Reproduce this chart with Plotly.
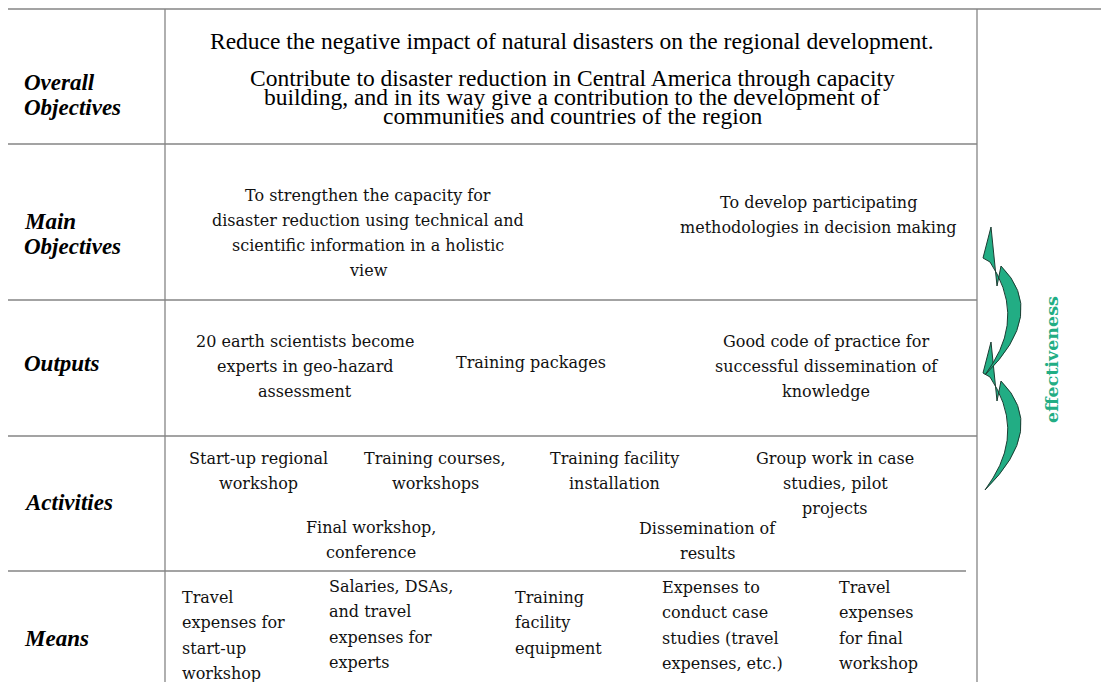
import plotly.graph_objects as go

W, H = 1101, 682

# ---------------- text content ----------------
row_labels = [["Overall", "Objectives"], ["Main", "Objectives"], ["Outputs"], ["Activities"], ["Means"]]
overall_goal = ["Reduce the negative impact of natural disasters on the regional development."]
overall_purpose = [
    "Contribute to disaster reduction in Central America through capacity",
    "building, and in its way give a contribution to the development of",
    "communities and countries of the region",
]
main_objectives = [
    ["To strengthen the capacity for", "disaster reduction using technical and",
     "scientific information in a holistic", "view"],
    ["To develop participating", "methodologies in decision making"],
]
outputs = [
    ["20 earth scientists become", "experts in geo-hazard", "assessment"],
    ["Training packages"],
    ["Good code of practice for", "successful dissemination of", "knowledge"],
]
activities = [
    ["Start-up regional", "workshop"],
    ["Training courses,", "workshops"],
    ["Training facility", "installation"],
    ["Group work in case", "studies, pilot", "projects"],
    ["Final workshop,", "conference"],
    ["Dissemination of", "results"],
]
means = [
    ["Travel", "expenses for", "start-up", "workshop"],
    ["Salaries, DSAs,", "and travel", "expenses for", "experts"],
    ["Training", "facility", "equipment"],
    ["Expenses to", "conduct case", "studies (travel", "expenses, etc.)"],
    ["Travel", "expenses", "for final", "workshop"],
]
side_label = "effectiveness"

# ---------------- layout (pixel positions) ----------------
grid_left, label_col, table_right, page_right = 8, 165, 977, W
row_edges = [9, 144, 300, 436, 571]
means_line_right = 966

label_first_y = [82, 221, 363, 502, 638]
label_x = 22
label_gap = 25

overall_goal_pos = (572, 41)
overall_purpose_pos = (572, 78)
overall_purpose_gap = 19

main_pos = [(368, 195), (818, 202)]
outputs_pos = [(305, 341), (531, 362), (826, 341)]
activities_pos = [(258, 458), (435, 458), (614, 458), (835, 458), (371, 527), (707, 528)]
means_pos = [(180, 597), (327, 586), (513, 597), (660, 587), (837, 587)]
body_gap = 25

GRID = "#858585"
TEXT = "#111111"
GREEN = "#22ad84"
BODY_FONT = dict(family="DejaVu Serif", size=16, color=TEXT)
HEAD_FONT = dict(family="Liberation Serif", size=23.5, color="#000000")
LABEL_FONT = dict(family="Liberation Serif", size=23, color="#000000")

fig = go.Figure()
fig.add_trace(go.Scatter(x=[0, W], y=[0, H], mode="markers", marker=dict(opacity=0),
                         hoverinfo="skip", showlegend=False))

shapes = []
# horizontal grid lines
shapes.append(dict(type="line", x0=grid_left, x1=page_right, y0=row_edges[0], y1=row_edges[0]))
for y in row_edges[1:4]:
    shapes.append(dict(type="line", x0=grid_left, x1=table_right, y0=y, y1=y))
shapes.append(dict(type="line", x0=grid_left, x1=means_line_right, y0=row_edges[4], y1=row_edges[4]))
# vertical grid lines
for x in (label_col, table_right):
    shapes.append(dict(type="line", x0=x, x1=x, y0=row_edges[0], y1=H))
for s in shapes:
    s.update(xref="x", yref="y", line=dict(color=GRID, width=1.3), layer="below")


def arrow_path(dy):
    p = lambda x, y: f"{x},{y + dy}"
    return ("M " + p(985, 490) + " Q " + p(1048, 428) + " " + p(1001, 381)
            + " L " + p(997, 401) + " L " + p(991, 342) + " L " + p(983, 373)
            + " L " + p(990, 377) + " Q " + p(1024, 428) + " " + p(993, 478) + " Z")


for dy in (0, -115):
    shapes.append(dict(type="path", path=arrow_path(dy), xref="x", yref="y",
                       fillcolor=GREEN, line=dict(color="#1d3d33", width=1)))

fig.update_layout(shapes=shapes)


def add_lines(lines, x, y0, gap, font, xanchor="center"):
    for i, t in enumerate(lines):
        fig.add_annotation(x=x, y=y0 + i * gap, text=t, showarrow=False, xref="x", yref="y",
                           xanchor=xanchor, yanchor="middle", font=font)


# row labels
for lab, y0 in zip(row_labels, label_first_y):
    add_lines(["<b><i>%s</i></b>" % t for t in lab], label_x, y0, label_gap, LABEL_FONT, "left")

# overall objectives
add_lines(overall_goal, overall_goal_pos[0], overall_goal_pos[1], 0, HEAD_FONT)
add_lines(overall_purpose, overall_purpose_pos[0], overall_purpose_pos[1], overall_purpose_gap, HEAD_FONT)

for lines, (x, y) in zip(main_objectives, main_pos):
    add_lines(lines, x, y, body_gap, BODY_FONT)
for lines, (x, y) in zip(outputs, outputs_pos):
    add_lines(lines, x, y, body_gap, BODY_FONT)
for lines, (x, y) in zip(activities, activities_pos):
    add_lines(lines, x, y, body_gap, BODY_FONT)
for lines, (x, y) in zip(means, means_pos):
    add_lines(lines, x, y, 25.5, BODY_FONT, "left")

fig.add_annotation(x=1052, y=360, text="<b>%s</b>" % side_label, textangle=-90, showarrow=False,
                   xref="x", yref="y", font=dict(family="DejaVu Serif", size=17.5, color=GREEN))

fig.update_layout(
    width=W, height=H, margin=dict(l=0, r=0, t=0, b=0),
    paper_bgcolor="white", plot_bgcolor="white",
    xaxis=dict(range=[0, W], visible=False, fixedrange=True),
    yaxis=dict(range=[H, 0], visible=False, fixedrange=True),
    showlegend=False,
)

fig.write_html(
    "out.html",
    config={"displayModeBar": False, "staticPlot": True},
    post_script="document.body.style.margin='0';document.documentElement.style.overflow='hidden';",
)
